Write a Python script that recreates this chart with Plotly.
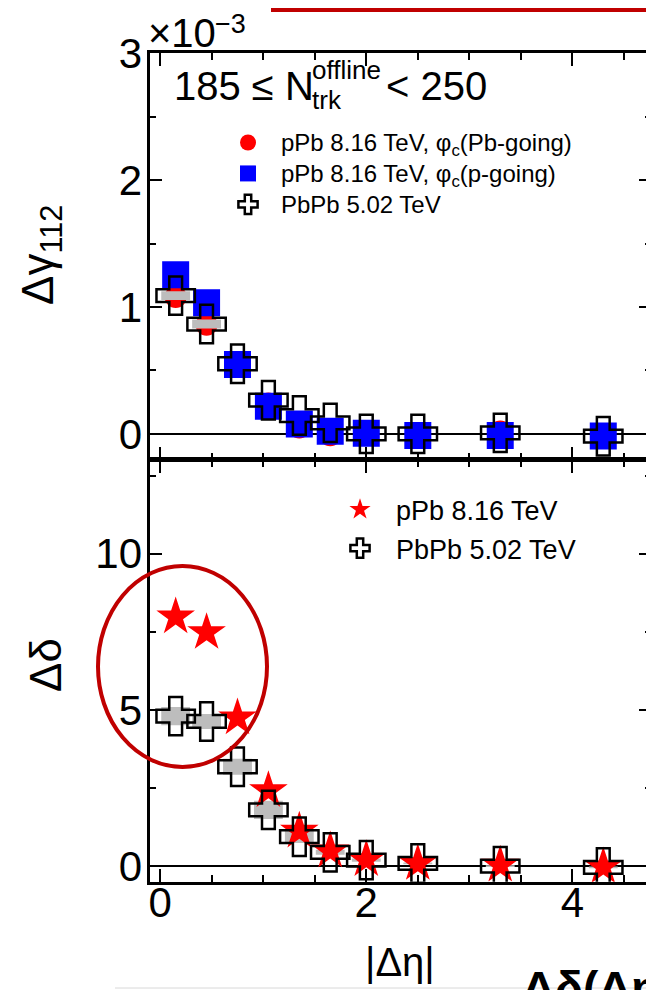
import plotly.graph_objects as go

# ---------------- data ----------------
eta = [0.15, 0.45, 0.75, 1.05, 1.35, 1.65, 2.0, 2.5, 3.3, 4.3]

# upper panel, units of 1e-3
gamma_pb_going = [1.08, 0.86, 0.55, 0.24, 0.05, -0.01, 0.0, -0.02, 0.02, -0.03]
gamma_p_going = [1.255, 1.034, 0.547, 0.218, 0.079, 0.021, 0.005, -0.013, -0.013, -0.016]
gamma_pbpb = [1.09, 0.866, 0.553, 0.266, 0.145, 0.087, 0.0, 0.0, 0.008, -0.018]
gamma_pbpb_sys = [0.035, 0.035, 0.0, 0.0, 0.0, 0.0, 0.0, 0.0, 0.0, 0.0]

# lower panel
delta_ppb = [7.98, 7.48, 4.75, 2.42, 1.12, 0.49, 0.21, 0.085, 0.03, -0.02]
delta_pbpb = [4.80, 4.63, 3.18, 1.80, 0.94, 0.44, 0.19, 0.085, 0.0, -0.04]
delta_pbpb_sys = [0.29, 0.24, 0.26, 0.29, 0.20, 0.08, 0.05, 0.03, 0.03, 0.03]

x_range = [-0.104, 4.77]
gamma_range = [-0.2, 3.0]
delta_range = [-0.5, 13.0]
x_ticks = [0, 2, 4]
gamma_ticks = [0, 1, 2, 3]
delta_ticks = [0, 5, 10]
sys_half_width = 0.14

FONT = "Liberation Sans, Arial, sans-serif"
# page is 654x990; the html body has an 8px margin, so the figure is offset by 8px
OFF = 8
W, H = 654 - OFF, 990 - OFF


def fx(px):
    return (px - OFF) / W


def fy(py):
    return 1 - (py - OFF) / H


def box_outline(xs, ys, ss, hw):
    bx, by = [], []
    for e, v, s in zip(xs, ys, ss):
        if s <= 0:
            continue
        bx += [e - hw, e + hw, e + hw, e - hw, e - hw, None]
        by += [v - s, v - s, v + s, v + s, v - s, None]
    return bx, by


def sized(text, px):
    return f'<span style="font-size:{px}px">{text}</span>'


fig = go.Figure()

# ---- upper panel ----
fig.add_trace(go.Scatter(
    x=eta, y=gamma_pb_going, mode="markers", xaxis="x2", yaxis="y2",
    name=sized("pPb 8.16 TeV, φ<sub>c</sub>(Pb-going)", 24),
    marker=dict(symbol="circle", color="#ff0000", size=22, line=dict(width=0)),
    legend="legend"))
fig.add_trace(go.Scatter(
    x=eta, y=gamma_p_going, mode="markers", xaxis="x2", yaxis="y2",
    name=sized("pPb 8.16 TeV, φ<sub>c</sub>(p-going)", 24),
    marker=dict(symbol="square", color="#0000ff", size=27, line=dict(width=0)),
    legend="legend"))
gbx, gby = box_outline(eta, gamma_pbpb, gamma_pbpb_sys, sys_half_width)
fig.add_trace(go.Scatter(
    x=gbx, y=gby, mode="lines", fill="toself", fillcolor="#bdbdbd",
    line=dict(width=0, color="#bdbdbd"), xaxis="x2", yaxis="y2",
    showlegend=False, hoverinfo="skip"))
fig.add_trace(go.Scatter(
    x=eta, y=gamma_pbpb, mode="markers", xaxis="x2", yaxis="y2",
    name=sized("PbPb 5.02 TeV", 24),
    marker=dict(symbol="cross-open", color="black", size=32, line=dict(width=2.5, color="black")),
    legend="legend"))

# ---- lower panel ----
dbx, dby = box_outline(eta, delta_pbpb, delta_pbpb_sys, sys_half_width)
fig.add_trace(go.Scatter(
    x=dbx, y=dby, mode="lines", fill="toself", fillcolor="#bdbdbd",
    line=dict(width=0, color="#bdbdbd"), xaxis="x", yaxis="y",
    showlegend=False, hoverinfo="skip"))
fig.add_trace(go.Scatter(
    x=eta, y=delta_ppb, mode="markers", xaxis="x", yaxis="y",
    name=sized("pPb 8.16 TeV", 27),
    marker=dict(symbol="star", color="#ff0000", size=29, line=dict(width=0)),
    legend="legend2"))
fig.add_trace(go.Scatter(
    x=eta, y=delta_pbpb, mode="markers", xaxis="x", yaxis="y",
    name=sized("PbPb 5.02 TeV", 27),
    marker=dict(symbol="cross-open", color="black", size=32, line=dict(width=2.5, color="black")),
    legend="legend2"))

# empty traces that attach the label-only axes to the subplots
for xa, ya in [("x3", "y"), ("x", "y3"), ("x2", "y4")]:
    fig.add_trace(go.Scatter(x=[None], y=[None], xaxis=xa, yaxis=ya, mode="markers",
                             showlegend=False, hoverinfo="skip"))

shapes = [
    # red ellipse annotation
    dict(type="circle", xref="paper", yref="paper",
         x0=fx(98), x1=fx(267), y0=fy(767), y1=fy(566),
         line=dict(color="#c00000", width=4)),
    # red box remnant at top
    dict(type="path", xref="paper", yref="paper",
         path=f"M {fx(273)} {fy(-5)} L {fx(273)} {fy(10)} L {fx(660)} {fy(10)}",
         line=dict(color="#c00000", width=4)),
    # grey rule at bottom
    dict(type="line", xref="paper", yref="paper",
         x0=fx(115), x1=fx(660), y0=fy(988), y1=fy(988),
         line=dict(color="#d8d8d8", width=1)),
]

axis_common = dict(
    showline=True, linecolor="black", linewidth=2.5, mirror="ticks",
    ticks="inside", ticklen=13, tickwidth=2, tickcolor="black",
    showgrid=False, zeroline=False, automargin=False, showticklabels=False,
    tickfont=dict(family=FONT, size=42, color="black"),
)
label_axis = dict(
    showline=False, ticks="", showgrid=False, zeroline=False, automargin=False,
    showticklabels=True, tickfont=dict(family=FONT, size=42, color="black"),
)

xd = [fx(149.5), fx(651.7)]
yd_low = [fy(881.7), fy(460)]
yd_up = [fy(459.3), fy(53.3)]
fig.update_layout(
    width=W, height=H, autosize=False,
    margin=dict(l=0, r=0, t=0, b=0, pad=0, autoexpand=False),
    paper_bgcolor="white", plot_bgcolor="white",
    font=dict(family=FONT, color="black"),
    showlegend=True,
    xaxis=dict(axis_common, domain=xd, range=x_range, anchor="y", tickvals=x_ticks,
               minor=dict(dtick=0.5, ticklen=7, tickwidth=2, tickcolor="black", ticks="inside")),
    xaxis2=dict(axis_common, domain=xd, range=x_range, anchor="y2", matches="x", tickvals=x_ticks,
                minor=dict(dtick=0.5, ticklen=7, tickwidth=2, tickcolor="black", ticks="inside")),
    yaxis=dict(axis_common, domain=yd_low, range=delta_range, anchor="x", tickvals=delta_ticks,
               zeroline=True, zerolinecolor="black", zerolinewidth=2,
               minor=dict(dtick=2.5, ticklen=7, tickwidth=2, tickcolor="black", ticks="inside")),
    yaxis2=dict(axis_common, domain=yd_up, range=gamma_range, anchor="x2", tickvals=gamma_ticks,
                zeroline=True, zerolinecolor="black", zerolinewidth=2,
                minor=dict(dtick=0.5, ticklen=7, tickwidth=2, tickcolor="black", ticks="inside")),
    # label-only axes, placed where the reference prints its tick numbers
    xaxis3=dict(label_axis, domain=xd, range=x_range, overlaying="x", anchor="free",
                side="bottom", position=fy(874), tickvals=x_ticks),
    yaxis3=dict(label_axis, domain=yd_low, range=delta_range, overlaying="y", anchor="free",
                side="left", position=fx(142), tickvals=delta_ticks),
    yaxis4=dict(label_axis, domain=yd_up, range=gamma_range, overlaying="y2", anchor="free",
                side="left", position=fx(142), tickvals=gamma_ticks),
    legend=dict(x=fx(215), y=fy(122), xanchor="left", yanchor="top",
                bgcolor="rgba(0,0,0,0)", itemwidth=56,
                font=dict(family=FONT, size=21.5, color="black"), tracegroupgap=0),
    legend2=dict(x=fx(324), y=fy(485), xanchor="left", yanchor="top",
                 bgcolor="rgba(0,0,0,0)", itemwidth=62,
                 font=dict(family=FONT, size=27.5, color="black"), tracegroupgap=0),
    shapes=shapes,
)

ann = []


def txt(text, x, y, size, xanchor="left", yanchor="middle", angle=0, bold=False):
    ann.append(dict(text=text, x=fx(x), y=fy(y), xref="paper", yref="paper",
                    xanchor=xanchor, yanchor=yanchor, showarrow=False, textangle=angle,
                    font=dict(family=FONT, size=size, color="black",
                              weight="bold" if bold else "normal")))


# exponent
txt("×10", 146, 33, 40)
txt("−3", 213, 24, 27)
# multiplicity label
txt("185 ≤ N", 172, 86, 40)
txt("offline", 310, 70, 26)
txt("trk", 310, 100, 26)
txt("< 250", 384, 86, 40)
# axis titles
txt("Δγ<sub>112</sub>", 41, 255, 44, xanchor="center", angle=-90)
txt("Δδ", 45, 665, 44, xanchor="center", angle=-90)
txt("|Δη|", 400, 962, 40, xanchor="center")
# cropped neighbour title
txt("Δδ(Δη)", 520, 960, 46, yanchor="top", bold=True)

fig.update_layout(annotations=ann)
fig.write_html("out.html")
